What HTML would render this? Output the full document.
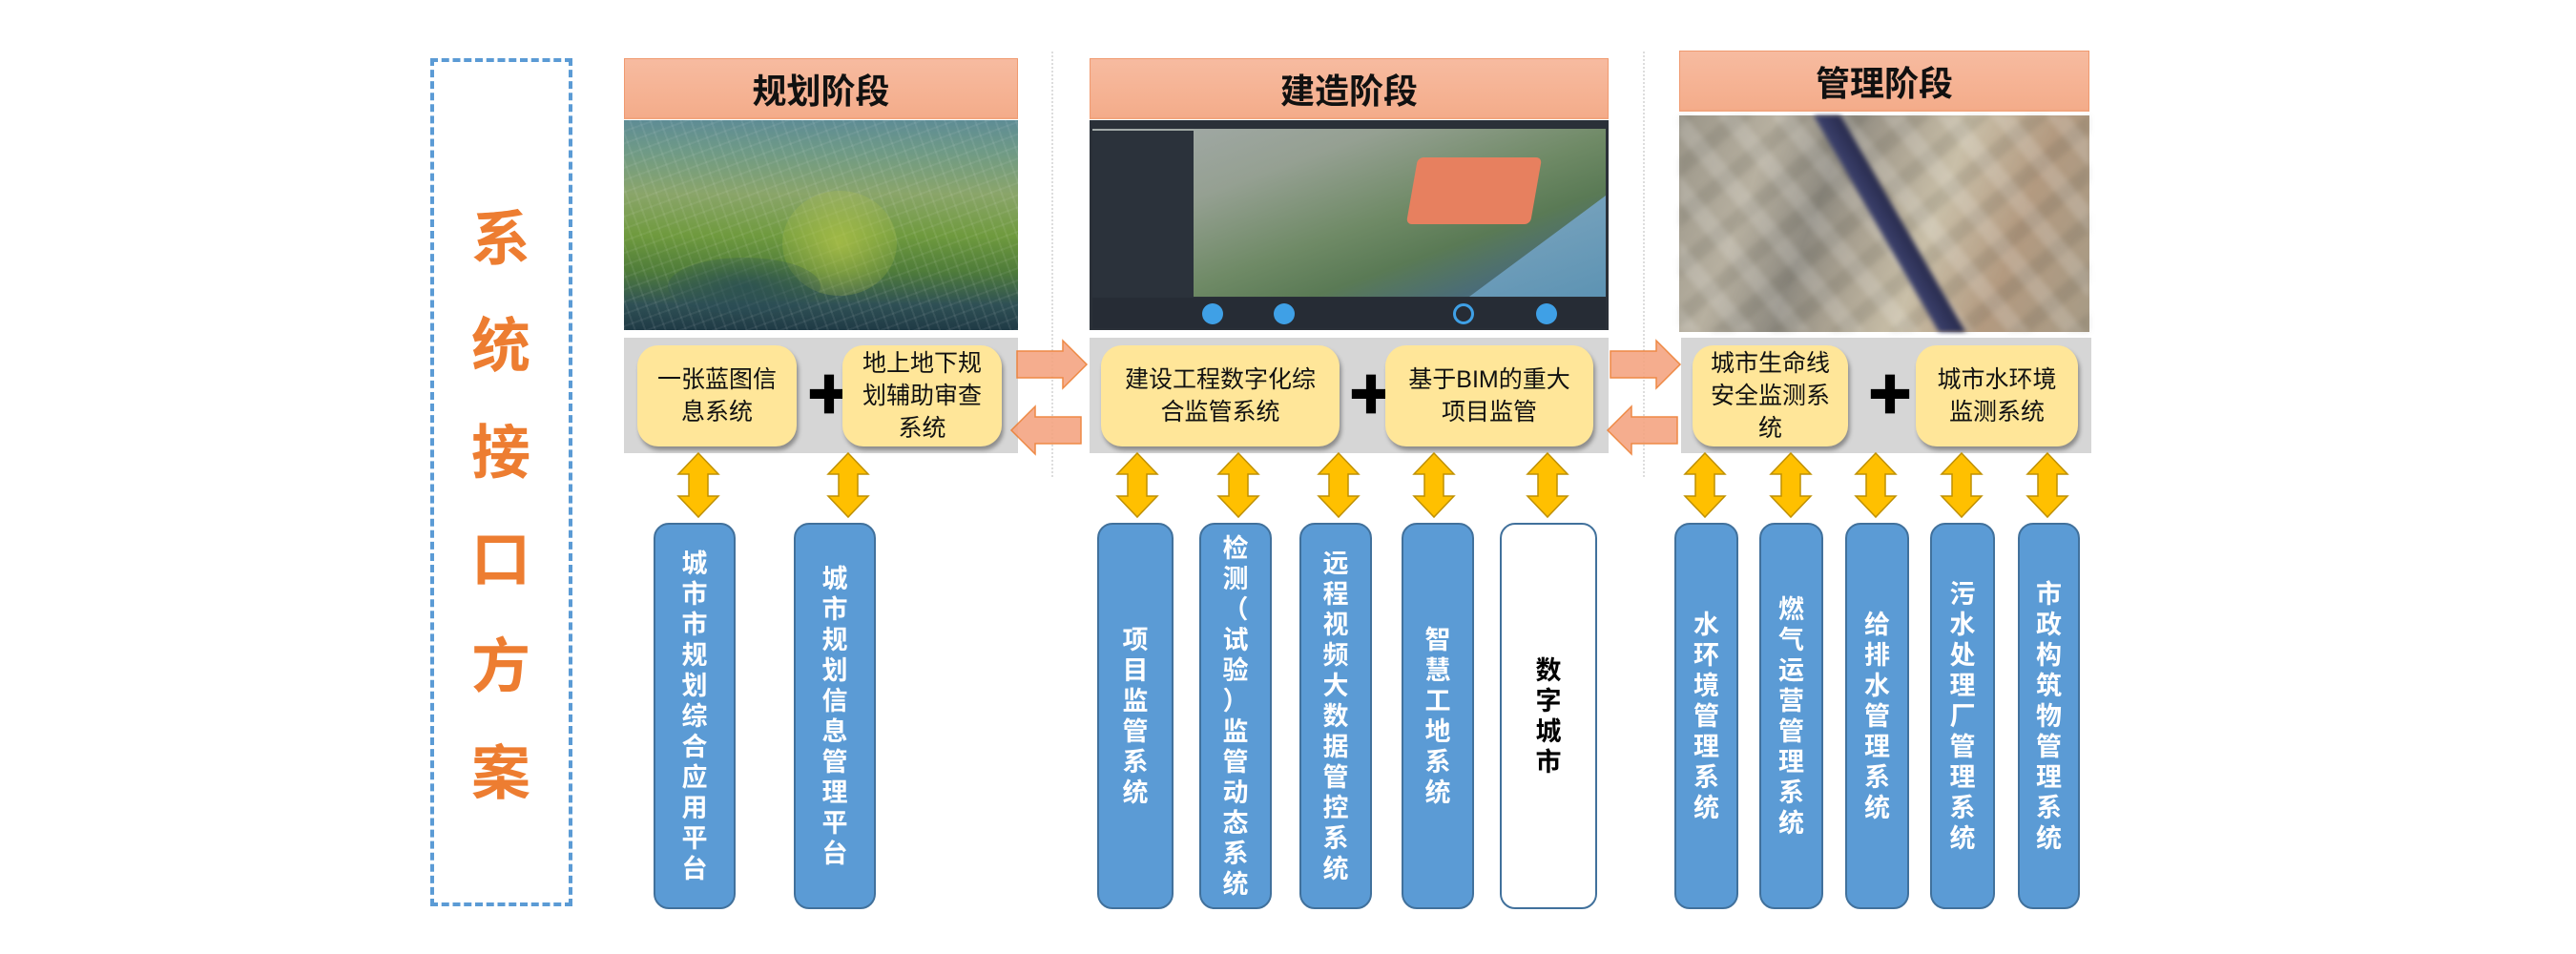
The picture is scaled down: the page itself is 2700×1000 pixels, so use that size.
<!DOCTYPE html>
<html><head><meta charset="utf-8"><style>
*{margin:0;padding:0;box-sizing:border-box}
body{width:2700px;height:1000px;background:#fff;position:relative;overflow:hidden;font-family:"Liberation Sans","Noto Sans CJK SC",sans-serif}
.a{position:absolute}
.hdr{background:linear-gradient(#f7bba0,#f4ac8a);border:1px solid #f09a70;border-bottom:2px solid #f2a57e;display:flex;align-items:center;justify-content:center;font-weight:bold;font-size:36px;color:#111}
.band{background:#d6d6d6}
.yb{background:#ffe699;border-radius:22px;box-shadow:2px 4px 4px rgba(0,0,0,.35);display:flex;align-items:center;justify-content:center;text-align:center;font-size:25px;line-height:34px;color:#111}
.plus{font-size:48px;font-weight:bold;color:#000;line-height:1}
.col{background:#5b9bd5;border:2px solid #41719c;border-radius:16px;display:flex;align-items:center;justify-content:center;text-align:center;color:#fff;font-weight:bold;font-size:27px;line-height:32px}
.col.w{background:#fff;color:#000}
.t{color:#ed7d31;font-weight:bold;font-size:62px;width:100px;text-align:center;left:475px}
.div{border-left:2px dotted #ddd;width:0}
</style></head><body>
<div class="a" style="left:451px;top:61px;width:149px;height:889px;border:4px dashed #5b9bd5"></div>
<div class="a t" style="top:200px">系</div>
<div class="a t" style="top:312px">统</div>
<div class="a t" style="top:424px">接</div>
<div class="a t" style="top:536px">口</div>
<div class="a t" style="top:648px">方</div>
<div class="a t" style="top:760px">案</div>

<div class="a div" style="left:1102px;top:54px;height:446px"></div>
<div class="a div" style="left:1722px;top:54px;height:446px"></div>

<!-- planning -->
<div class="a hdr" style="left:654px;top:61px;width:413px;height:64px">规划阶段</div>
<div class="a" style="left:654px;top:126px;width:413px;height:220px;background:linear-gradient(180deg,#5e8c95 0%,#6f9a86 15%,#8aa56a 35%,#6f9a3e 55%,#4f7c3a 72%,#2f5055 88%,#1f3a45 100%)"></div>
<div class="a" style="left:654px;top:126px;width:413px;height:220px;background:repeating-linear-gradient(70deg,rgba(255,255,255,.07) 0 2px,transparent 2px 10px),repeating-linear-gradient(-20deg,rgba(255,255,255,.06) 0 2px,transparent 2px 12px)"></div>
<div class="a" style="left:820px;top:200px;width:120px;height:110px;border-radius:50%;background:radial-gradient(#b8c84a,rgba(150,180,60,0));opacity:.7"></div>
<div class="a" style="left:700px;top:270px;width:160px;height:60px;border-radius:50%;background:radial-gradient(#264a55,rgba(30,60,70,0));opacity:.7"></div>
<div class="a band" style="left:654px;top:354px;width:413px;height:121px"></div>
<div class="a yb" style="left:668px;top:362px;width:167px;height:106px">一张蓝图信<br>息系统</div>
<div class="a plus" style="left:845px;top:392px">✚</div>
<div class="a yb" style="left:883px;top:362px;width:167px;height:106px">地上地下规<br>划辅助审查<br>系统</div>

<!-- construction -->
<div class="a hdr" style="left:1142px;top:61px;width:544px;height:64px">建造阶段</div>
<div class="a" style="left:1142px;top:126px;width:544px;height:220px;background:#2a3038"></div>
<div class="a" style="left:1145px;top:135px;width:538px;height:176px;background:linear-gradient(160deg,#a4abab 0%,#95a092 30%,#6f8a66 55%,#5a7a55 70%,#4a6c78 85%,#5f8fa8 100%)"></div>
<div class="a" style="left:1145px;top:137px;width:106px;height:175px;background:#2b323b"></div>
<div class="a" style="left:1480px;top:165px;width:130px;height:70px;background:#e7805f;transform:skewX(-10deg);border-radius:6px"></div>
<div class="a" style="left:1540px;top:205px;width:143px;height:106px;background:linear-gradient(160deg,#7fa7c0,#5d93b3);clip-path:polygon(100% 0,100% 100%,0 100%)"></div>
<div class="a" style="left:1145px;top:312px;width:538px;height:32px;background:#262c35"></div>
<div class="a" style="left:1260px;top:318px;width:22px;height:22px;border-radius:50%;background:#3fa0e6"></div>
<div class="a" style="left:1335px;top:318px;width:22px;height:22px;border-radius:50%;background:#3fa0e6"></div>
<div class="a" style="left:1523px;top:318px;width:22px;height:22px;border-radius:50%;border:3px solid #3fa0e6"></div>
<div class="a" style="left:1610px;top:318px;width:22px;height:22px;border-radius:50%;background:#3fa0e6"></div>
<div class="a band" style="left:1142px;top:354px;width:544px;height:121px"></div>
<div class="a yb" style="left:1154px;top:362px;width:250px;height:106px">建设工程数字化综<br>合监管系统</div>
<div class="a plus" style="left:1413px;top:392px">✚</div>
<div class="a yb" style="left:1452px;top:362px;width:218px;height:106px">基于BIM的重大<br>项目监管</div>

<!-- management -->
<div class="a hdr" style="left:1760px;top:53px;width:430px;height:64px">管理阶段</div>
<div class="a" style="left:1760px;top:121px;width:430px;height:227px;background:linear-gradient(110deg,#9a9588 0%,#b7b0a0 20%,#8e8a80 35%,#a8a090 45%,#c9bfa8 60%,#b39a80 78%,#a79b86 100%)"></div>
<div class="a" style="left:1760px;top:121px;width:430px;height:227px;background:repeating-linear-gradient(50deg,rgba(255,255,255,.16) 0 18px,transparent 18px 44px),repeating-linear-gradient(-40deg,rgba(60,60,50,.12) 0 16px,transparent 16px 40px);filter:blur(3px)"></div>
<div class="a" style="left:1760px;top:121px;width:430px;height:227px;background:linear-gradient(60deg,transparent 48%,#3a3f6a 49%,#2a2d50 53%,transparent 54%);filter:blur(2px)"></div>
<div class="a band" style="left:1762px;top:354px;width:430px;height:121px"></div>
<div class="a yb" style="left:1774px;top:362px;width:163px;height:106px">城市生命线<br>安全监测系<br>统</div>
<div class="a plus" style="left:1957px;top:392px">✚</div>
<div class="a yb" style="left:2008px;top:362px;width:170px;height:106px">城市水环境<br>监测系统</div>

<svg class="a" style="left:0;top:0" width="2700" height="1000">
<defs>
<g id="ra"><polygon points="0,11 48,11 48,0 73,25 48,50 48,39 0,39" fill="#f4a582" stroke="#ed7d31" stroke-width="1.5" opacity=".9"/></g>
<g id="da"><polygon points="21,0 42,22 31,22 31,45 42,45 21,67 0,45 11,45 11,22 0,22" fill="#ffc000" stroke="#bf9000" stroke-width="1.5"/></g>
</defs>
<use href="#ra" x="1066" y="357"/>
<use href="#ra" transform="translate(1133,426) scale(-1,1)"/>
<use href="#ra" x="1688" y="357"/>
<use href="#ra" transform="translate(1758,426) scale(-1,1)"/>
<use href="#da" x="711" y="475"/>
<use href="#da" x="868" y="475"/>
<use href="#da" x="1171" y="475"/>
<use href="#da" x="1277" y="475"/>
<use href="#da" x="1382" y="475"/>
<use href="#da" x="1482" y="475"/>
<use href="#da" x="1601" y="475"/>
<use href="#da" x="1766" y="475"/>
<use href="#da" x="1856" y="475"/>
<use href="#da" x="1945" y="475"/>
<use href="#da" x="2035" y="475"/>
<use href="#da" x="2125" y="475"/>
</svg>

<div class="a col" style="left:685px;top:548px;width:86px;height:405px">城<br>市<br>市<br>规<br>划<br>综<br>合<br>应<br>用<br>平<br>台</div>
<div class="a col" style="left:832px;top:548px;width:86px;height:405px">城<br>市<br>规<br>划<br>信<br>息<br>管<br>理<br>平<br>台</div>
<div class="a col" style="left:1150px;top:548px;width:80px;height:405px">项<br>目<br>监<br>管<br>系<br>统</div>
<div class="a col" style="left:1257px;top:548px;width:76px;height:405px">检<br>测<br>（<br>试<br>验<br>）<br>监<br>管<br>动<br>态<br>系<br>统</div>
<div class="a col" style="left:1362px;top:548px;width:76px;height:405px">远<br>程<br>视<br>频<br>大<br>数<br>据<br>管<br>控<br>系<br>统</div>
<div class="a col" style="left:1469px;top:548px;width:76px;height:405px">智<br>慧<br>工<br>地<br>系<br>统</div>
<div class="a col w" style="left:1572px;top:548px;width:102px;height:405px">数<br>字<br>城<br>市</div>
<div class="a col" style="left:1755px;top:548px;width:67px;height:405px">水<br>环<br>境<br>管<br>理<br>系<br>统</div>
<div class="a col" style="left:1844px;top:548px;width:67px;height:405px">燃<br>气<br>运<br>营<br>管<br>理<br>系<br>统</div>
<div class="a col" style="left:1934px;top:548px;width:67px;height:405px">给<br>排<br>水<br>管<br>理<br>系<br>统</div>
<div class="a col" style="left:2023px;top:548px;width:68px;height:405px">污<br>水<br>处<br>理<br>厂<br>管<br>理<br>系<br>统</div>
<div class="a col" style="left:2115px;top:548px;width:65px;height:405px">市<br>政<br>构<br>筑<br>物<br>管<br>理<br>系<br>统</div>
</body></html>
